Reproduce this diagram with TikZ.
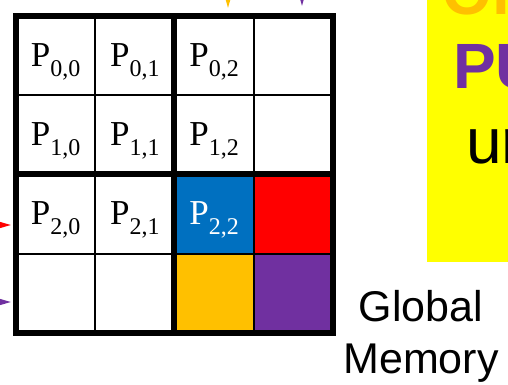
\documentclass[tikz,border=0pt]{standalone}
\usepackage{fontspec}
\setmainfont{Liberation Serif}
\newfontfamily\arialfont{Liberation Sans}
\usetikzlibrary{arrows.meta}

\definecolor{tileblue}{HTML}{0070C0}
\definecolor{tilered}{HTML}{FF0000}
\definecolor{tilegold}{HTML}{FFC000}
\definecolor{tilepurple}{HTML}{7030A0}
\definecolor{boxyellow}{HTML}{FFFF00}

\newcommand{\plabel}[2]{P\raisebox{-10pt}{\fontsize{24}{24}\selectfont #1,#2}}

\tikzset{
  cell/.style={draw, line width=2.3pt, minimum size=79.25pt, inner sep=0pt,
    outer sep=0pt, text height=30pt, text depth=9pt,
    font=\fontsize{35}{40}\selectfont},
  tileline/.style={line width=6pt},
  tip/.style={line width=2pt, -{Triangle[length=22pt,width=12pt]}}
}

\begin{document}
\begin{tikzpicture}[x=1pt,y=-1pt]
\useasboundingbox (0,0) rectangle (508,385);
\clip (0,0) rectangle (508,385);

% Draw cells
\foreach \r in {0,...,3}
  \foreach \c in {0,...,3}
    \node[cell] (c-\r-\c) at (55.6+79.25*\c, 55.6+79.25*\r) {};

% Labels of the threads
\foreach \r in {0,1,2}
  \foreach \c in {0,1,2}
    \node at (c-\r-\c) [cell, draw=none] {\plabel{\r}{\c}};

% Colour the tile
\node[cell, fill=tileblue, text=white] at (c-2-2) {\plabel{2}{2}};
\node[cell, fill=tilered] at (c-2-3) {};
\node[cell, fill=tilegold] at (c-3-2) {};
\node[cell, fill=tilepurple] at (c-3-3) {};

% Thick tile borders
\draw[tileline] (c-0-0.north west) rectangle (c-3-3.south east);
\draw[tileline] (c-0-1.north east) -- (c-3-1.south east);
\draw[tileline] (c-1-0.south west) -- (c-1-3.south east);

% Arrow tips
\coordinate (gold-from) at (228,-40);
\coordinate (gold-to) at (228,8);
\coordinate (purple-from) at (302,-40);
\coordinate (purple-to) at (302,6);
\coordinate (red-from) at (-40,225);
\coordinate (red-to) at (11,225);
\coordinate (violet-from) at (-40,302);
\coordinate (violet-to) at (11,302);
\draw[tip, tilegold] (gold-from) -- (gold-to);
\draw[tip, tilepurple] (purple-from) -- (purple-to);
\draw[tip, tilered] (red-from) -- (red-to);
\draw[tip, tilepurple] (violet-from) -- (violet-to);

% Yellow box
\fill[boxyellow] (427,-5) rectangle (530,262);
\node[anchor=base west, inner sep=0pt, text=tilegold,
  font=\arialfont\bfseries\fontsize{64}{70}\selectfont] (or) at (442.5,15) {Or};
\node[anchor=base west, inner sep=0pt, text=tilepurple,
  font=\arialfont\bfseries\fontsize{64}{70}\selectfont] (pu) at (453,89) {PU};
\node[anchor=base west, inner sep=0pt,
  font=\arialfont\fontsize{64}{70}\selectfont] (ur) at (466,163) {ur};

% Memory label
\node[anchor=north, inner sep=0pt, align=center,
  font=\arialfont\fontsize{43}{52}\selectfont] (gmem) at (421,290)
  {Global\\Memory};
\end{tikzpicture}
\end{document}
